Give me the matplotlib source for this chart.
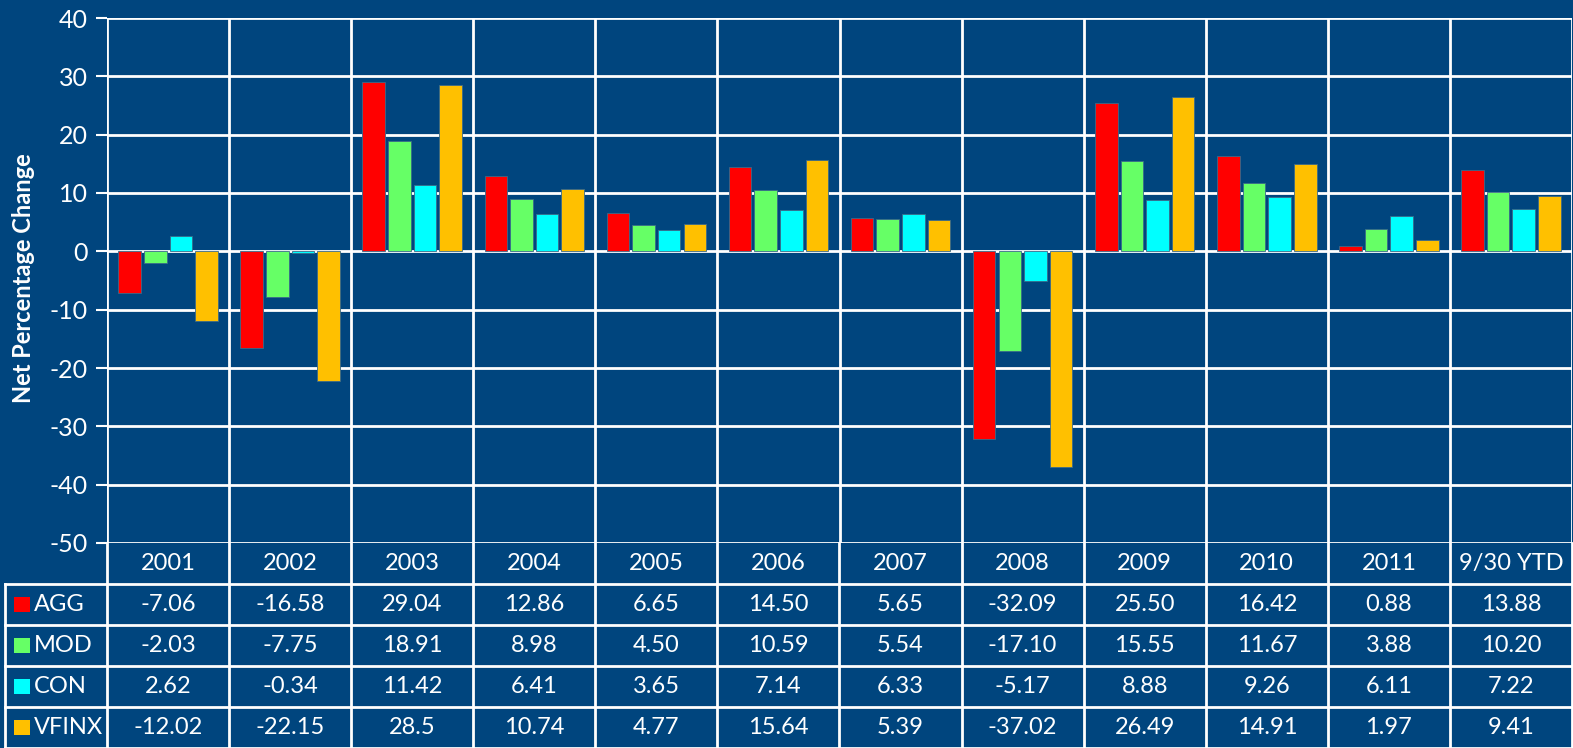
import matplotlib
matplotlib.use('Agg')
import matplotlib.pyplot as plt
import matplotlib.patches as patches
import numpy as np

plt.rcParams['font.family'] = ['Lato', 'DejaVu Sans']
plt.rcParams['axes.unicode_minus'] = False

years = ['2001', '2002', '2003', '2004', '2005', '2006', '2007', '2008', '2009', '2010', '2011', '9/30 YTD']
series = ['AGG', 'MOD', 'CON', 'VFINX']
agg = ['-7.06', '-16.58', '29.04', '12.86', '6.65', '14.50', '5.65', '-32.09', '25.50', '16.42', '0.88', '13.88']
mod = ['-2.03', '-7.75', '18.91', '8.98', '4.50', '10.59', '5.54', '-17.10', '15.55', '11.67', '3.88', '10.20']
con = ['2.62', '-0.34', '11.42', '6.41', '3.65', '7.14', '6.33', '-5.17', '8.88', '9.26', '6.11', '7.22']
vfinx = ['-12.02', '-22.15', '28.5', '10.74', '4.77', '15.64', '5.39', '-37.02', '26.49', '14.91', '1.97', '9.41']
colors = ['#ff0000', '#66ff66', '#00ffff', '#ffc000']

BG = '#00457e'
W, H = 1573, 748

def main():
	rows = [agg, mod, con, vfinx]
	fig = plt.figure(figsize = (W / 100, H / 100), dpi = 100, facecolor = BG)

	# chart area
	ax = fig.add_axes([107 / W, (H - 543) / H, (W - 1 - 107) / W, (543 - 18) / H])
	ax.set_facecolor(BG)
	ax.set_xlim(0, len(years))
	ax.set_ylim(-50, 40)
	ax.set_yticks(range(-50, 41, 10))
	ax.set_xticks([])
	ax.tick_params(axis = 'y', colors = 'white', labelsize = 18, length = 8, width = 1.5, pad = 6)
	for spine in ax.spines.values():
		spine.set_visible(False)
	for y in range(-50, 41, 10):
		ax.axhline(y, color = 'white', linewidth = 2, zorder = 1)
	for i in range(len(years) + 1):
		ax.axvline(i, color = 'white', linewidth = 2, zorder = 1)

	x = np.arange(len(years))
	step, width = 0.21, 0.185
	for k, row in enumerate(rows):
		vals = [float(v) for v in row]
		ax.bar(x + 0.5 + (k - 1.5) * step, vals, width, color = colors[k],
			edgecolor = '#3a6a8a', linewidth = 0.6, zorder = 3)

	fig.text(24 / W, 1 - 278 / H, 'Net Percentage Change', rotation = 90, color = 'white',
		fontsize = 17, fontweight = 'bold', ha = 'center', va = 'center')

	# data table
	tx = fig.add_axes([5 / W, 0, (W - 1 - 5) / W, (H - 543) / H])
	tx.set_facecolor(BG)
	tx.axis('off')
	left = -102 / 122.2
	tx.set_xlim(left, len(years))
	tx.set_ylim(5, 0)
	lw = 2
	for i in range(len(years) + 1):
		tx.plot([i, i], [0, 5], color = 'white', linewidth = lw, clip_on = False)
	tx.plot([left, left], [1, 5], color = 'white', linewidth = lw, clip_on = False)
	for r in range(1, 6):
		tx.plot([left, len(years)], [r, r], color = 'white', linewidth = lw, clip_on = False)
	for i, yr in enumerate(years):
		tx.text(i + 0.5, 0.5, yr, color = 'white', fontsize = 17, ha = 'center', va = 'center')
	for k, row in enumerate(rows):
		tx.add_patch(patches.Rectangle((left + 0.075, k + 1.32), 0.13, 0.36, facecolor = colors[k], edgecolor = 'none'))
		tx.text(left + 0.24, k + 1.5, series[k], color = 'white', fontsize = 17, ha = 'left', va = 'center')
		for i, v in enumerate(row):
			tx.text(i + 0.5, k + 1.5, v, color = 'white', fontsize = 17, ha = 'center', va = 'center')

	fig.savefig('out.png', dpi = 100, facecolor = BG)

if __name__ == '__main__':
	main()
